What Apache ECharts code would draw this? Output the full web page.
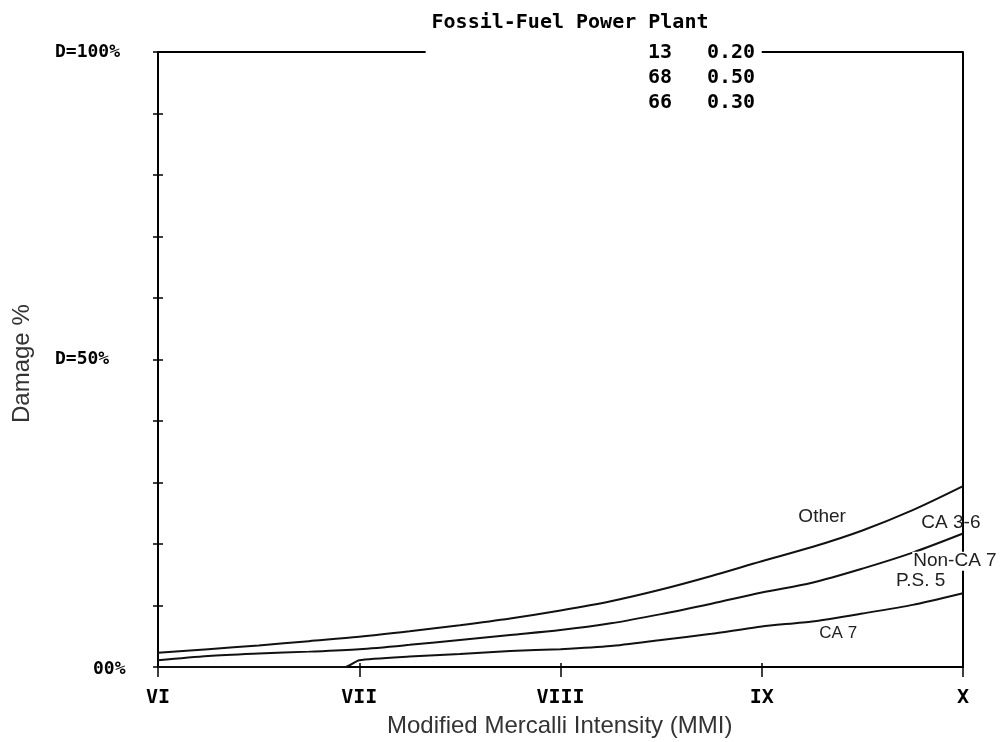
<!DOCTYPE html>
<html>
<head>
<meta charset="utf-8">
<script src="https://cdn.jsdelivr.net/npm/echarts@6/dist/echarts.min.js"></script>
<style>
  html, body { margin: 0; padding: 0; background: #fff; }
  #chart { width: 1001px; height: 742px; }
</style>
</head>
<body>
<div id="chart"></div>
<script>
// Intensity scale (MMI VI..X) and its roman tick labels
const mmiValues = [6, 7, 8, 9, 10];
const mmiLabels = ['VI', 'VII', 'VIII', 'IX', 'X'];

// Sample points along the intensity axis
const mmi = [6, 6.25, 6.5, 6.75, 7, 7.25, 7.5, 7.75, 8, 8.25, 8.5, 8.75, 9, 9.25, 9.5, 9.75, 10];

// Damage % curves
const damageOther = [2.3, 2.9, 3.5, 4.2, 4.9, 5.8, 6.8, 7.9, 9.2, 10.7, 12.6, 14.8, 17.2, 19.5, 22.2, 25.5, 29.4];
const damageCA36 = [1.1, 1.8, 2.2, 2.5, 2.9, 3.6, 4.4, 5.2, 6.0, 7.1, 8.6, 10.3, 12.1, 13.7, 16.0, 18.6, 21.7];
const mmiPS5 = [6, 6.93, 7, 7.25, 7.5, 7.75, 8, 8.25, 8.5, 8.75, 9, 9.25, 9.5, 9.75, 10];
const damagePS5 = [0, 0, 1.1, 1.7, 2.1, 2.6, 2.9, 3.4, 4.4, 5.4, 6.6, 7.4, 8.7, 10.1, 12.0];

// Damage-state table in the header
const tableCounts = ['13', '68', '66'];
const tableWeights = ['0.20', '0.50', '0.30'];

// Y-axis labels keyed by percent
const yLabelText = { 0: '00%', 50: 'D=50%', 100: 'D=100%' };

const titleText = 'Fossil-Fuel Power Plant';
const xName = 'Modified Mercalli Intensity (MMI)';
const yName = 'Damage %';

const pixFont = '"DejaVu Sans Mono", monospace';
const sansFont = '"Liberation Sans", Arial, sans-serif';

const pairs = (xs, ys) => xs.map((x, i) => [x, ys[i]]);

const curveStyle = { color: '#111', width: 2 };
const noteStyle = { fontFamily: sansFont, fontSize: 19, color: '#222' };

// Invisible anchor used for the curve annotations
const noteMarker = (labelExtra, data) => ({
  symbol: 'circle', symbolSize: 1, silent: true,
  itemStyle: { color: 'rgba(0,0,0,0)' },
  label: Object.assign({ show: true, position: 'inside', formatter: p => p.name }, noteStyle, labelExtra),
  data: data
});

const chart = echarts.init(document.getElementById('chart'), null, { renderer: 'canvas' });

const tableGraphics = [];
tableCounts.forEach((c, i) => {
  tableGraphics.push({
    type: 'text', left: 648, top: 43 + i * 25,
    style: { text: c, font: 'bold 20px ' + pixFont, fill: '#000' }
  });
  tableGraphics.push({
    type: 'text', left: 707, top: 43 + i * 25,
    style: { text: tableWeights[i], font: 'bold 20px ' + pixFont, fill: '#000' }
  });
});

chart.setOption({
  animation: false,
  backgroundColor: '#fff',
  title: {
    text: titleText,
    left: 565, top: 8, textAlign: 'center',
    textStyle: { fontFamily: pixFont, fontWeight: 'bold', fontSize: 20, color: '#000' }
  },
  grid: { left: 158, right: 38, top: 52, bottom: 75 },
  xAxis: [
    {
      type: 'value', min: 6, max: 10, interval: 1,
      axisLine: { show: true, onZero: false, lineStyle: { color: '#000', width: 2 } },
      axisTick: { show: true, length: 10, lineStyle: { color: '#000', width: 1.5 } },
      splitLine: { show: false },
      axisLabel: {
        margin: 21,
        formatter: v => mmiLabels[mmiValues.indexOf(v)] || '',
        fontFamily: pixFont, fontWeight: 'bold', fontSize: 20, color: '#000'
      }
    },
    {
      type: 'value', min: 6, max: 10, interval: 1, position: 'bottom',
      axisLine: { show: false },
      axisTick: { show: true, inside: true, length: 4, lineStyle: { color: '#000', width: 1.5 } },
      axisLabel: { show: false },
      splitLine: { show: false }
    }
  ],
  yAxis: [
    {
      type: 'value', min: 0, max: 100, interval: 10, position: 'left',
      axisLine: { show: true, lineStyle: { color: '#000', width: 2 } },
      axisTick: { show: true, length: 5, lineStyle: { color: '#000', width: 1.5 } },
      splitLine: { show: false },
      axisLabel: {
        align: 'left', margin: 103,
        formatter: v => (v === 0 ? '{z|' + yLabelText[0] + '}' : (yLabelText[v] || '')),
        fontFamily: pixFont, fontWeight: 'bold', fontSize: 18, color: '#000',
        rich: { z: { fontFamily: pixFont, fontWeight: 'bold', fontSize: 18, color: '#000', padding: [4, 0, 0, 38] } }
      }
    },
    {
      type: 'value', min: 0, max: 100, interval: 10, position: 'left',
      axisLine: { show: false },
      axisTick: { show: true, inside: true, length: 5, lineStyle: { color: '#000', width: 1.5 } },
      axisLabel: { show: false },
      splitLine: { show: false }
    },
    {
      type: 'value', min: 0, max: 100, interval: 10, position: 'right',
      axisLine: { show: true, lineStyle: { color: '#000', width: 2 } },
      axisTick: { show: false },
      axisLabel: { show: false },
      splitLine: { show: false }
    }
  ],
  graphic: [
    {
      type: 'text', left: 387, top: 714,
      style: { text: xName, font: '24px ' + sansFont, fill: '#333' }
    },
    {
      type: 'text', x: 10, y: 423, rotation: Math.PI / 2,
      style: { text: yName, font: '24px ' + sansFont, fill: '#333' }
    }
  ].concat(tableGraphics),
  series: [
    {
      name: 'Other', type: 'line', data: pairs(mmi, damageOther),
      symbol: 'none', smooth: 0.3, lineStyle: curveStyle,
      markLine: {
        silent: true, symbol: 'none', label: { show: false },
        lineStyle: { color: '#000', width: 2, type: 'solid' },
        data: [
          [{ coord: [6, 100] }, { coord: [7.33, 100] }],
          [{ coord: [9.0, 100] }, { coord: [10, 100] }]
        ]
      },
      markPoint: noteMarker({}, [
        { name: 'Other', coord: [9.3, 24.4] },
        { name: 'CA 3-6', coord: [9.94, 23.4] }
      ])
    },
    {
      name: 'CA 3-6 / Non-CA 7', type: 'line', data: pairs(mmi, damageCA36),
      symbol: 'none', smooth: 0.3, lineStyle: curveStyle,
      markPoint: noteMarker({ backgroundColor: '#fff', padding: [0, 1] }, [
        { name: 'Non-CA 7', coord: [9.96, 17.2] },
        { name: 'P.S. 5', coord: [9.79, 14.1] }
      ])
    },
    {
      name: 'P.S. 5 / CA 7', type: 'line', data: pairs(mmiPS5, damagePS5),
      symbol: 'none', smooth: 0.2, lineStyle: curveStyle,
      markPoint: noteMarker({ fontSize: 17 }, [
        { name: 'CA 7', coord: [9.38, 5.4] }
      ])
    }
  ]
});
</script>
</body>
</html>
